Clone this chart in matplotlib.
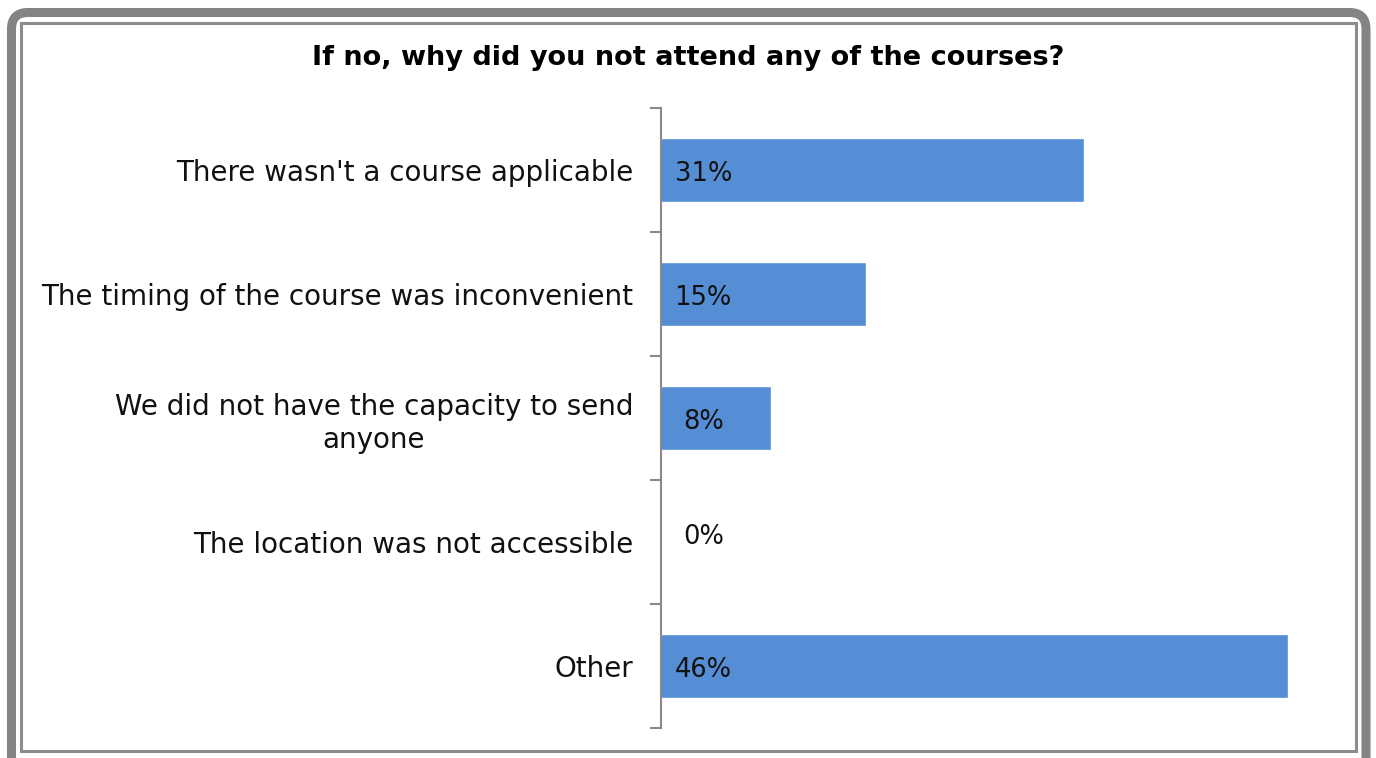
import matplotlib
matplotlib.use("Agg")
import matplotlib.pyplot as plt
from matplotlib.patches import FancyBboxPatch, Rectangle

categories = [
    "There wasn't a course applicable",
    "The timing of the course was inconvenient",
    "We did not have the capacity to send\nanyone",
    "The location was not accessible",
    "Other",
]
values = [31, 15, 8, 0, 46]
value_labels = ["31%", "15%", "8%", "0%", "46%"]
title = "If no, why did you not attend any of the courses?"

W, H = 1376, 758
fig = plt.figure(figsize=(W / 100, H / 100), dpi=100)
fig.patch.set_facecolor("white")

# frame: thick rounded outer border plus a thin inner rule
outer = FancyBboxPatch((11.5 / W, -20 / H), (1366 - 11.5) / W, (H - 12.5 + 20) / H,
                       boxstyle="round,pad=0,rounding_size=0.012",
                       transform=fig.transFigure, fill=False,
                       edgecolor="#848484", linewidth=6.5, zorder=0,
                       mutation_aspect=W / H)
fig.patches.append(outer)
inner = Rectangle((20.5 / W, 1 - 750.5 / H), (1355.5 - 20.5) / W, (750.5 - 22.5) / H,
                  transform=fig.transFigure, fill=False,
                  edgecolor="#8c8c8c", linewidth=2.2, zorder=0)
fig.patches.append(inner)

font = ["DejaVu Sans"]
ax = fig.add_axes([661 / W, 1 - 728 / H, 680 / W, (728 - 108) / H])
ax.set_xlim(0, 50)
ax.set_ylim(len(categories) - 0.5, -0.5)

ypos = list(range(len(categories)))
ax.barh(ypos, values, height=0.5, color="#558ED5", edgecolor="#6b9ddb", linewidth=0.6)

for y, v, lab in zip(ypos, values, value_labels):
    x0 = 1.0 if v >= 10 else 1.6
    ax.text(x0, y + 0.03 if v else y - 0.04, lab, ha="left", va="center",
            fontsize=18.5, family=font, color="#111111")

for s in ("top", "right", "bottom"):
    ax.spines[s].set_visible(False)
ax.spines["left"].set_color("#8a8a8a")
ax.spines["left"].set_linewidth(1.5)
ax.set_xticks([])
ax.set_yticks(ypos)
ax.set_yticklabels(categories, fontsize=20, family=font, color="#111111",
                   multialignment="center", linespacing=1.25)
ax.tick_params(axis="y", which="major", length=0, pad=20)
ax.set_yticks([y - 0.5 for y in range(len(categories) + 1)], minor=True)
ax.tick_params(axis="y", which="minor", length=8, width=1.5, color="#8a8a8a")

fig.text(688 / W, 1 - 58 / H, title, ha="center", va="center", fontsize=19.5,
         fontweight="bold", family=font)

fig.savefig("out.png", dpi=100)
